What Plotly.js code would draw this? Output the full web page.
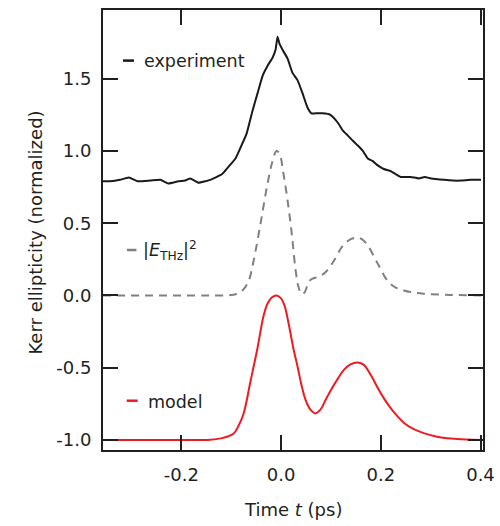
<!DOCTYPE html>
<html>
<head>
<meta charset="utf-8">
<script src="https://cdn.plot.ly/plotly-3.0.1.min.js"></script>
<style>html,body{margin:0;padding:0;background:#fff;}#chart{width:500px;height:526px;}</style>
</head>
<body>
<div id="chart"></div>
<script>
// Experiment (Kerr ellipticity, offset by +0.8)
var expT = [-0.357,-0.343,-0.323,-0.305,-0.288,-0.262,-0.242,-0.226,-0.206,-0.192,-0.182,-0.166,-0.142,-0.118,-0.108,-0.091,-0.081,-0.069,-0.057,-0.047,-0.037,-0.027,-0.017,-0.011,-0.007,-0.003,0.003,0.013,0.023,0.033,0.043,0.053,0.061,0.069,0.083,0.099,0.114,0.124,0.134,0.144,0.154,0.164,0.174,0.184,0.194,0.206,0.220,0.240,0.260,0.276,0.288,0.301,0.327,0.345,0.361,0.381,0.401];
var expY = [0.79,0.79,0.80,0.816,0.79,0.795,0.80,0.775,0.79,0.795,0.81,0.78,0.80,0.84,0.88,0.95,1.025,1.12,1.28,1.40,1.52,1.59,1.645,1.70,1.79,1.74,1.70,1.64,1.54,1.49,1.40,1.30,1.26,1.26,1.26,1.25,1.195,1.14,1.106,1.07,1.037,1.00,0.947,0.93,0.90,0.875,0.86,0.82,0.82,0.81,0.82,0.81,0.80,0.795,0.795,0.80,0.80];

// |E_THz|^2
var ethzT = [-0.357,-0.30,-0.25,-0.20,-0.15,-0.12,-0.10,-0.088,-0.076,-0.065,-0.055,-0.041,-0.027,-0.017,-0.009,-0.003,0.005,0.015,0.023,0.029,0.035,0.041,0.047,0.053,0.060,0.075,0.089,0.106,0.124,0.140,0.152,0.162,0.174,0.194,0.214,0.230,0.246,0.266,0.286,0.341,0.401];
var ethzY = [0,0,0,0,0,0,0.003,0.012,0.04,0.10,0.24,0.50,0.775,0.93,1.0,0.98,0.84,0.61,0.38,0.18,0.06,0.01,0.02,0.07,0.11,0.13,0.16,0.24,0.345,0.39,0.40,0.39,0.345,0.22,0.10,0.055,0.035,0.02,0.012,0.004,0];

// Model (offset by -1.0)
var modT = [-0.357,-0.25,-0.182,-0.142,-0.116,-0.095,-0.085,-0.075,-0.061,-0.047,-0.035,-0.027,-0.018,-0.009,0.000,0.007,0.015,0.025,0.033,0.041,0.049,0.059,0.069,0.079,0.089,0.099,0.114,0.126,0.140,0.154,0.166,0.180,0.194,0.206,0.218,0.232,0.246,0.266,0.286,0.313,0.341,0.371,0.401];
var modY = [-1.0,-1.0,-1.0,-0.998,-0.985,-0.955,-0.90,-0.816,-0.59,-0.36,-0.14,-0.055,-0.012,0.0,-0.02,-0.07,-0.19,-0.37,-0.49,-0.62,-0.72,-0.79,-0.816,-0.79,-0.725,-0.66,-0.575,-0.515,-0.475,-0.463,-0.48,-0.55,-0.64,-0.71,-0.77,-0.83,-0.88,-0.925,-0.952,-0.977,-0.99,-0.997,-1.0];

var xTickVals = [-0.2, 0.0, 0.2, 0.4];
var xTickText = ["-0.2", "0.0", "0.2", "0.4"];
var yTickVals = [-1.0, -0.5, 0.0, 0.5, 1.0, 1.5];
var yTickText = ["-1.0", "-0.5", "0.0", "0.5", "1.0", "1.5"];

var FONT = "DejaVu Sans";
var TXT = "#231f20";

var traces = [
  {x: ethzT, y: ethzY, mode: "lines", line: {color: "#808080", width: 2, dash: "8px,6px", shape: "spline", smoothing: 1.0}, hoverinfo: "skip"},
  {x: modT, y: modY, mode: "lines", line: {color: "#ed1c24", width: 2, shape: "spline", smoothing: 1.0}, hoverinfo: "skip"},
  {x: expT, y: expY, mode: "lines", line: {color: "#1a1a1a", width: 2, shape: "spline", smoothing: 0.4}, hoverinfo: "skip"}
];

var axisCommon = {
  showline: true, linecolor: "#231f20", linewidth: 2, mirror: "ticks",
  ticks: "inside", ticklen: 15, tickwidth: 2, tickcolor: "#231f20",
  showgrid: false, zeroline: false, tickfont: {family: FONT, size: 18, color: TXT}
};

var layout = {
  width: 500, height: 526,
  margin: {l: 103, r: 17, t: 10, b: 76},
  paper_bgcolor: "#fff", plot_bgcolor: "#fff",
  showlegend: false,
  xaxis: Object.assign({}, axisCommon, {range: [-0.357, 0.405], tickmode: "array", tickvals: xTickVals, ticktext: xTickText, ticklabelstandoff: 7}),
  yaxis: Object.assign({}, axisCommon, {range: [-1.069, 1.975], tickmode: "array", tickvals: yTickVals, ticktext: yTickText, ticklabelstandoff: 6}),
  shapes: [
    {type: "line", xref: "paper", yref: "paper", x0: 0.0526, x1: 0.0816, y0: 0.885, y1: 0.885, line: {color: "#1a1a1a", width: 2.5}},
    {type: "line", xref: "paper", yref: "paper", x0: 0.063, x1: 0.088, y0: 0.4545, y1: 0.4545, line: {color: "#808080", width: 2.5}},
    {type: "line", xref: "paper", yref: "paper", x0: 0.0624, x1: 0.0913, y0: 0.112, y1: 0.112, line: {color: "#ed1c24", width: 2.5}}
  ],
  annotations: [
    {xref: "paper", yref: "paper", x: 0.103, y: 0.885, xanchor: "left", yanchor: "middle", showarrow: false, text: "experiment", font: {family: FONT, size: 17.5, color: TXT}},
    {xref: "paper", yref: "paper", x: 0.100, y: 0.4545, xanchor: "left", yanchor: "middle", showarrow: false, text: "|<i>E</i><sub>THz</sub>|<sup>2</sup>", font: {family: FONT, size: 17.5, color: TXT}},
    {xref: "paper", yref: "paper", x: 0.114, y: 0.109, xanchor: "left", yanchor: "middle", showarrow: false, text: "model", font: {family: FONT, size: 17.5, color: TXT}},
    {xref: "paper", yref: "paper", x: 0.5, y: -0.135, xanchor: "center", yanchor: "middle", showarrow: false, text: "Time <i>t</i> (ps)", font: {family: FONT, size: 18, color: TXT}},
    {xref: "paper", yref: "paper", x: -0.178, xanchor: "center", y: 0.495, yanchor: "middle", showarrow: false, textangle: -90, text: "Kerr ellipticity (normalized)", font: {family: FONT, size: 18, color: TXT}}
  ]
};

Plotly.newPlot("chart", traces, layout, {staticPlot: true, displayModeBar: false});
</script>
</body>
</html>
